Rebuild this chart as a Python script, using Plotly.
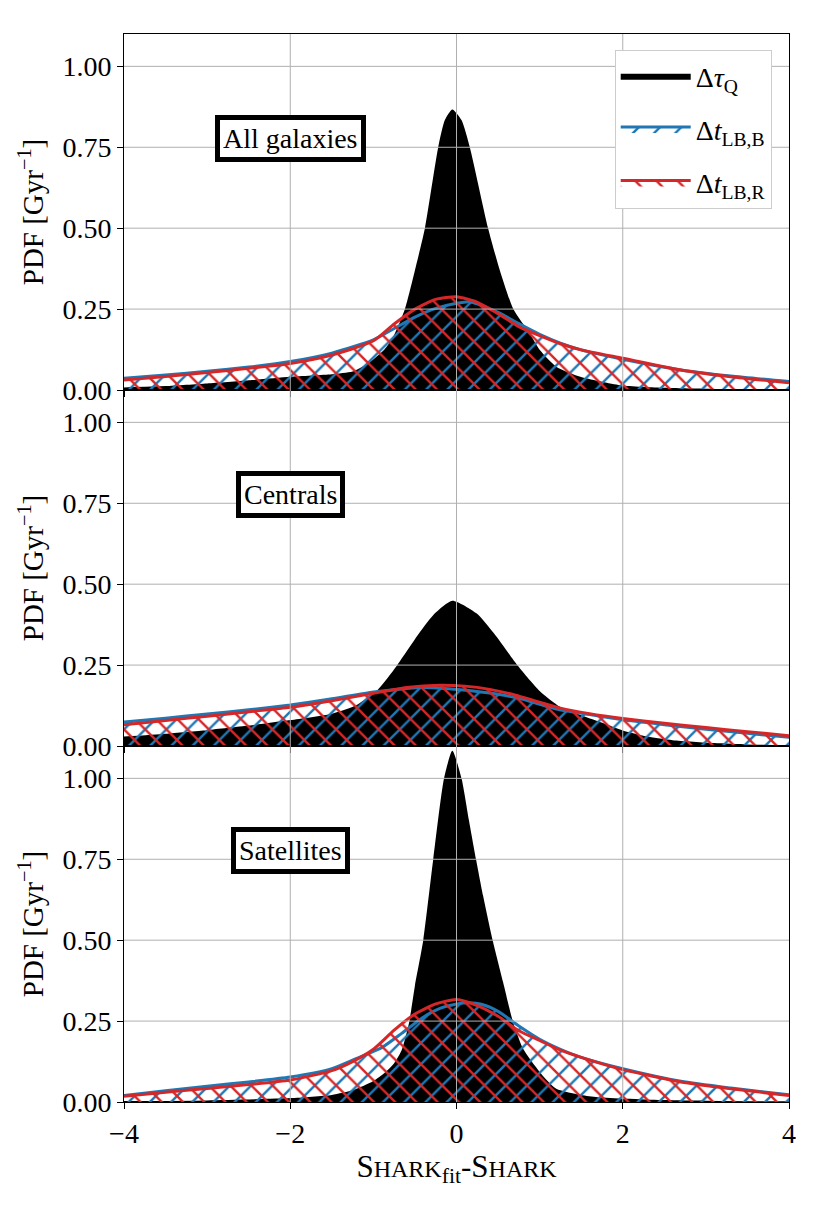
import plotly.graph_objects as go
from plotly.subplots import make_subplots

FONT = "Liberation Serif"
BLUE = "#1f77b4"
RED = "#d62728"
GRID = "#b0b0b0"

# ---- All galaxies
all_tau_x = [-4, -3.5, -3, -2.5, -2, -1.5, -1.25, -1.05, -0.87, -0.75, -0.62, -0.5, -0.38, -0.22, -0.14,
             -0.05, 0.06, 0.16, 0.38, 0.52, 0.68, 0.88, 1.0, 1.2, 1.49, 1.97, 2.5, 3, 3.5, 4]
all_tau_y = [0.008, 0.012, 0.02, 0.03, 0.041, 0.049, 0.057, 0.085, 0.124, 0.17, 0.25, 0.37, 0.5, 0.75, 0.834,
             0.867, 0.834, 0.75, 0.5, 0.371, 0.252, 0.175, 0.124, 0.072, 0.041, 0.015, 0.007, 0.004, 0.002, 0.001]
all_b_x = [-4, -3.5, -3, -2.5, -2, -1.5, -1.0, -0.75, -0.5, -0.25, 0, 0.15, 0.25, 0.5, 0.75, 1.0, 1.25, 1.5,
           2.0, 2.7, 3.3, 4]
all_b_y = [0.036, 0.046, 0.058, 0.071, 0.088, 0.114, 0.155, 0.19, 0.225, 0.252, 0.268, 0.273, 0.266, 0.24,
           0.205, 0.172, 0.145, 0.124, 0.095, 0.062, 0.043, 0.026]
all_r_x = [-4, -3.5, -3, -2.5, -2, -1.5, -1.0, -0.75, -0.5, -0.25, 0, 0.25, 0.5, 0.75, 1.0, 1.25, 1.5, 2.0,
           2.7, 3.3, 4]
all_r_y = [0.031, 0.042, 0.054, 0.067, 0.082, 0.108, 0.152, 0.204, 0.25, 0.28, 0.288, 0.271, 0.236, 0.196,
           0.168, 0.143, 0.124, 0.098, 0.062, 0.041, 0.022]

# ---- Centrals
cen_tau_x = [-4, -3.5, -3, -2.5, -2, -1.5, -1.2, -0.95, -0.72, -0.45, -0.26, -0.05, 0.24, 0.45, 0.74,
             1.0, 1.245, 1.5, 1.77, 2.0, 2.3, 2.6, 3.1, 3.5, 4]
cen_tau_y = [0.029, 0.038, 0.049, 0.063, 0.08, 0.1, 0.127, 0.173, 0.247, 0.348, 0.41, 0.449, 0.41, 0.348, 0.247,
             0.17, 0.121, 0.095, 0.07, 0.048, 0.029, 0.018, 0.009, 0.005, 0.003]
cen_b_x = [-4, -3.5, -3, -2.5, -2, -1.5, -1, -0.6, -0.4, -0.1, 0.2, 0.5, 0.8, 1.2, 1.6, 2.0, 2.5, 3, 3.5, 4]
cen_b_y = [0.074, 0.086, 0.099, 0.112, 0.127, 0.146, 0.167, 0.178, 0.181, 0.177, 0.17, 0.16, 0.144, 0.114,
           0.097, 0.081, 0.066, 0.052, 0.039, 0.027]
cen_r_x = [-4, -3.5, -3, -2.5, -2, -1.5, -1, -0.6, -0.2, 0.1, 0.4, 0.7, 1.0, 1.25, 1.6, 2, 2.5, 3, 3.5, 4]
cen_r_y = [0.066, 0.079, 0.092, 0.106, 0.12, 0.14, 0.163, 0.181, 0.188, 0.185, 0.175, 0.158, 0.135, 0.117,
           0.1, 0.085, 0.07, 0.057, 0.044, 0.032]

# ---- Satellites
sat_tau_x = [-4, -3, -2, -1.5, -1.24, -1.0, -0.87, -0.75, -0.66, -0.57, -0.5, -0.4, -0.28, -0.15, -0.05,
             0.06, 0.15, 0.235, 0.32, 0.435, 0.56, 0.68, 0.8, 1.0, 1.2, 1.5, 1.7, 2.5, 3, 4]
sat_tau_y = [0.003, 0.005, 0.012, 0.022, 0.037, 0.065, 0.089, 0.12, 0.16, 0.246, 0.36, 0.5, 0.75, 1.0, 1.085,
             1.0, 0.87, 0.75, 0.637, 0.5, 0.371, 0.247, 0.165, 0.093, 0.041, 0.022, 0.015, 0.006,
             0.004, 0.002]
sat_b_x = [-4, -3.5, -3, -2.5, -2, -1.5, -1.2, -0.9, -0.66, -0.4, -0.2, 0, 0.15, 0.3, 0.5, 0.75, 1.0, 1.25,
           1.5, 2.0, 2.7, 3.3, 4]
sat_b_y = [0.02, 0.035, 0.049, 0.062, 0.077, 0.103, 0.135, 0.168, 0.212, 0.262, 0.289, 0.303, 0.307, 0.302,
           0.28, 0.235, 0.194, 0.163, 0.138, 0.103, 0.064, 0.043, 0.022]
sat_r_x = [-4, -3.5, -3, -2.5, -2, -1.5, -1.25, -1.0, -0.75, -0.5, -0.25, 0, 0.25, 0.5, 0.75, 1.0, 1.25,
           1.5, 2.0, 2.7, 3.3, 4]
sat_r_y = [0.018, 0.03, 0.042, 0.054, 0.068, 0.097, 0.125, 0.163, 0.222, 0.272, 0.303, 0.317, 0.298, 0.265,
           0.22, 0.19, 0.16, 0.138, 0.1, 0.062, 0.041, 0.02]

panel_labels = ["All galaxies", "Centrals", "Satellites"]
series_names = ["Δ<i>τ</i><sub>Q</sub>", "Δ<i>t</i><sub>LB,B</sub>", "Δ<i>t</i><sub>LB,R</sub>"]
x_ticks = [-4, -2, 0, 2, 4]
y_ticks = [0.0, 0.25, 0.5, 0.75, 1.0]

panels = [
    (all_tau_x, all_tau_y, all_b_x, all_b_y, all_r_x, all_r_y),
    (cen_tau_x, cen_tau_y, cen_b_x, cen_b_y, cen_r_x, cen_r_y),
    (sat_tau_x, sat_tau_y, sat_b_x, sat_b_y, sat_r_x, sat_r_y),
]

fig = make_subplots(rows=3, cols=1, shared_xaxes=True, vertical_spacing=0)

for i, (tx, ty, bx, by, rx, ry) in enumerate(panels):
    row = i + 1
    first = row == 1
    fig.add_trace(go.Scatter(
        x=tx, y=ty, mode="lines", fill="tozeroy", fillcolor="black",
        line=dict(color="black", width=0, shape="spline", smoothing=0.6),
        name=series_names[0], showlegend=first, legendgroup="tau",
    ), row=row, col=1)
    fig.add_trace(go.Scatter(
        x=bx, y=by, mode="lines", fill="tozeroy", fillcolor="rgba(0,0,0,0)",
        fillpattern=dict(shape="/", fgcolor=BLUE, bgcolor="rgba(0,0,0,0)", fgopacity=1,
                         size=15, solidity=0.16),
        line=dict(color=BLUE, width=3, shape="spline", smoothing=0.6),
        name=series_names[1], showlegend=first, legendgroup="b",
    ), row=row, col=1)
    fig.add_trace(go.Scatter(
        x=rx, y=ry, mode="lines", fill="tozeroy", fillcolor="rgba(0,0,0,0)",
        fillpattern=dict(shape="\\", fgcolor=RED, bgcolor="rgba(0,0,0,0)", fgopacity=1,
                         size=15, solidity=0.16),
        line=dict(color=RED, width=3, shape="spline", smoothing=0.6),
        name=series_names[2], showlegend=first, legendgroup="r",
    ), row=row, col=1)

    yref = "y" if first else f"y{row}"
    xref = "x" if first else f"x{row}"
    # grid drawn above the fills, like matplotlib does
    for xv in x_ticks[1:-1]:
        fig.add_shape(type="line", x0=xv, x1=xv, y0=0, y1=1.1, xref=xref, yref=yref,
                      line=dict(color=GRID, width=1), layer="above")
    for yv in y_ticks[1:]:
        fig.add_shape(type="line", x0=-4, x1=4, y0=yv, y1=yv, xref=xref, yref=yref,
                      line=dict(color=GRID, width=1), layer="above")

    fig.add_annotation(
        x=-2, y=0.776, xref=xref, yref=yref, text=panel_labels[i], showarrow=False,
        font=dict(family=FONT, size=28, color="black"),
        bgcolor="white", bordercolor="black", borderwidth=5, borderpad=3,
    )

    fig.update_yaxes(
        range=[0, 1.1], tickvals=y_ticks, ticktext=[f"{v:.2f}" for v in y_ticks],
        showgrid=False, zeroline=False, showline=True, linecolor="black", linewidth=1, mirror=True,
        ticks="outside", ticklen=6, tickcolor="black",
        tickfont=dict(family=FONT, size=28, color="black"),
        title=dict(text="PDF [Gyr<sup>−1</sup>]", font=dict(family=FONT, size=29, color="black"), standoff=10),
        row=row, col=1,
    )
    fig.update_xaxes(
        range=[-4, 4], tickvals=x_ticks, ticktext=[str(v).replace("-", "−") for v in x_ticks],
        showgrid=False, zeroline=False, showline=True, linecolor="black", linewidth=1, mirror=True,
        ticks="outside", ticklen=6, tickcolor="black",
        tickfont=dict(family=FONT, size=28, color="black"),
        row=row, col=1,
    )

fig.update_xaxes(
    title=dict(
        text='S<span style="font-size:24px">HARK</span><sub>fit</sub>-S<span style="font-size:24px">HARK</span>',
        font=dict(family=FONT, size=31, color="black"), standoff=6,
    ),
    row=3, col=1,
)

fig.update_layout(
    width=823, height=1204,
    margin=dict(l=116, r=42, t=26, b=110),
    plot_bgcolor="white", paper_bgcolor="white",
    font=dict(family=FONT, color="black"),
    legend=dict(
        x=0.974, xanchor="right", y=0.985, yanchor="top",
        bgcolor="white", bordercolor="#cccccc", borderwidth=1,
        font=dict(family=FONT, size=28, color="black"),
        itemwidth=70, tracegroupgap=14,
    ),
)

fig.write_html("out.html")
